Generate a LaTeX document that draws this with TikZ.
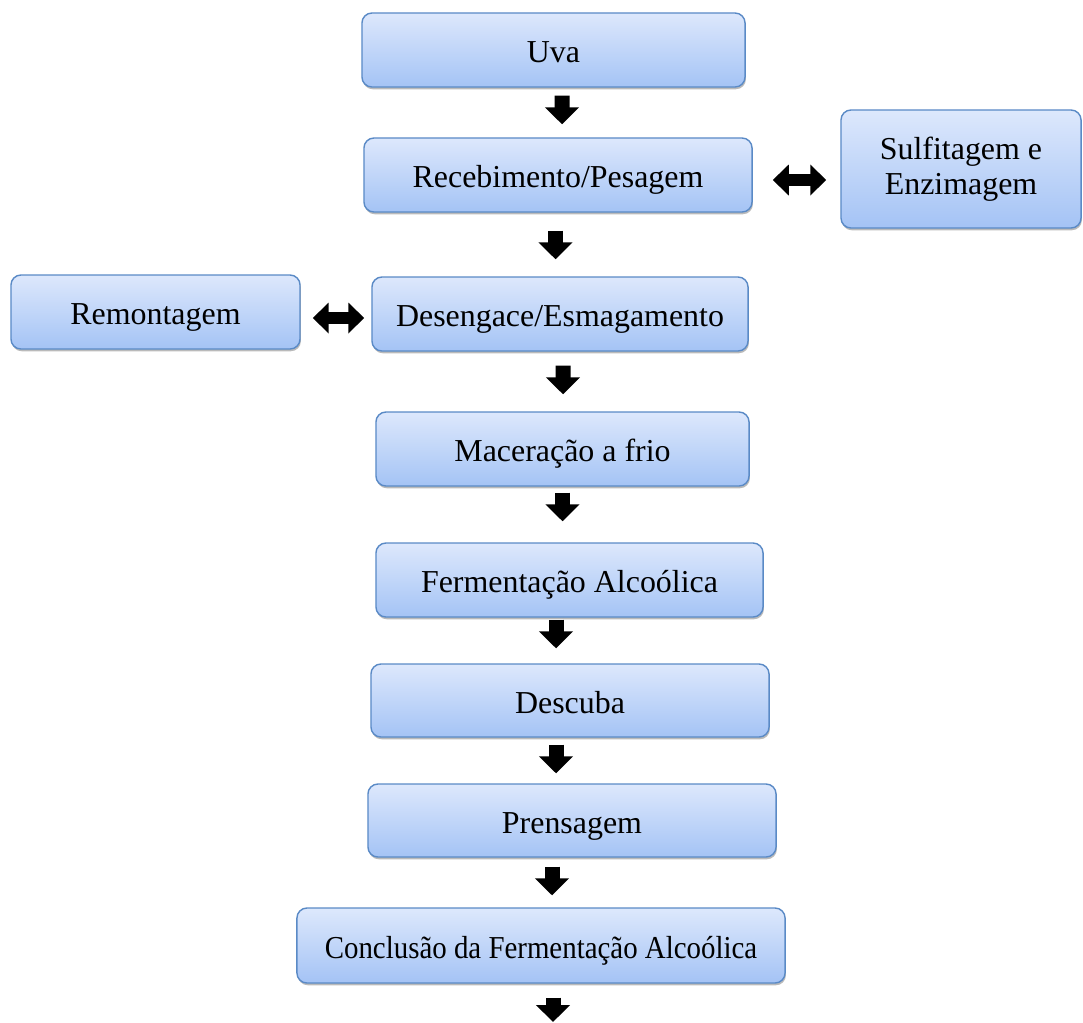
\documentclass[tikz,border=0pt]{standalone}
\usepackage{fontspec}
\setmainfont{Liberation Serif}
\usetikzlibrary{positioning, calc, shadows, arrows.meta}

\definecolor{boxtop}{HTML}{DDE8FC}
\definecolor{boxbot}{HTML}{A4C3F5}
\definecolor{boxline}{HTML}{5A8AC6}

\begin{document}
\begin{tikzpicture}[
            x=0.025cm, y=-0.025cm,
            etapa/.style={rectangle, rounded corners=0.25cm, draw=boxline, line width=1pt,
                top color=boxtop, bottom color=boxbot, align=center,
                minimum height=1.85cm, inner sep=2pt,
                font=\fontsize{22.7}{25}\selectfont,
                drop shadow={shadow xshift=0.6pt, shadow yshift=-1.6pt, fill=black!45, opacity=0.6}},
            linha/.style={etapa, text height=20pt, text depth=2pt},
            seta/.style={-{Triangle[length=0.425cm, width=0.825cm]}, line width=0.375cm, black},
            dupla/.style={{Triangle[length=0.4cm, width=0.75cm]}-{Triangle[length=0.4cm, width=0.75cm]}, line width=0.3cm, black}
        ]
            \useasboundingbox (0,0) rectangle (1083,1022);

            % --- etapas ---
            \node[linha, minimum width=9.575cm] (uva) at (553.5,50) {Uva};
            \node[linha, minimum width=9.7cm] (receb) at (558,175) {Recebimento/Pesagem};
            \node[etapa, minimum width=6.0cm, minimum height=2.95cm] (sulf) at (961,169) {Sulfitagem e\\Enzimagem};
            \node[linha, minimum width=7.225cm] (remont) at (155.5,312) {Remontagem};
            \node[linha, minimum width=9.4cm] (deseng) at (560,314) {Desengace/Esmagamento};
            \node[linha, minimum width=9.325cm] (macer) at (562.5,449) {Maceração a frio};
            \node[linha, minimum width=9.675cm] (ferm) at (569.5,580) {Fermentação Alcoólica};
            \node[linha, minimum width=9.95cm, minimum height=1.825cm] (descuba) at (570,700.5) {Descuba};
            \node[linha, minimum width=10.2cm, minimum height=1.825cm] (prens) at (572,820.5) {Prensagem};
            % texto comprimido na horizontal, como no original
            \node[linha, minimum width=12.2cm, minimum height=1.875cm] (concl) at (541,945.5) {\scalebox{0.905}[1]{Conclusão da Fermentação Alcoólica}};
            \coordinate (fim) at (553,1022);

            % --- fluxo principal ---
            \draw[seta] ($(uva.south)+(8.5,8)$) -- ($(receb.north)+(4,-13)$);
            \draw[seta] ($(receb.south)+(-2.5,18)$) -- ($(deseng.north)+(-4.5,-17)$);
            \draw[seta] ($(deseng.south)+(3,14)$) -- ($(macer.north)+(0.5,-17)$);
            \draw[seta] ($(macer.south)+(0,6)$) -- ($(ferm.north)+(-7,-21)$);
            \draw[seta] ($(ferm.south)+(-13.5,2)$) -- ($(descuba.north)+(-14,-15)$);
            \draw[seta] ($(descuba.south)+(-14,7)$) -- ($(prens.north)+(-16,-10)$);
            \draw[seta] ($(prens.south)+(-20,9)$) -- ($(concl.north)+(11,-12)$);
            \draw[seta] ($(concl.south)+(12,14)$) -- (fim);

            % --- etapas laterais ---
            \draw[dupla] ($(receb.east)+(20,5)$) -- ($(sulf.west)+(-14,11)$);
            \draw[dupla] ($(remont.east)+(12,6)$) -- ($(deseng.west)+(-7,4)$);
        \end{tikzpicture}
\end{document}
